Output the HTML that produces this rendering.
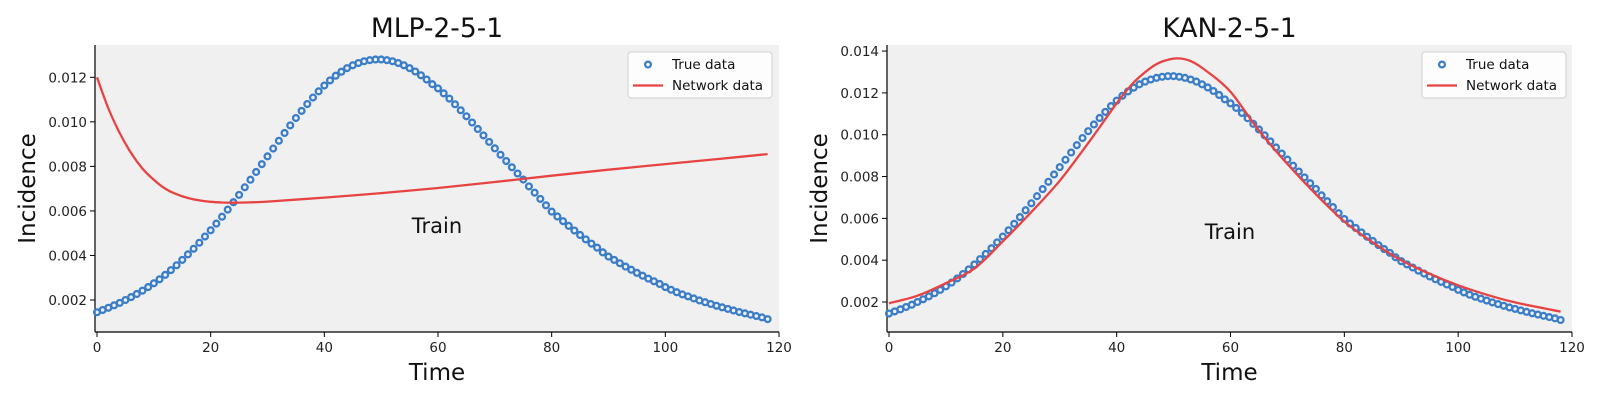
<!DOCTYPE html>
<html><head><meta charset="utf-8"><style>
html,body{margin:0;padding:0;background:#fff;}
svg{display:block;font-family:"DejaVu Sans","Liberation Sans",sans-serif;}
</style></head><body>
<svg id="chart" width="1600" height="400" viewBox="0 0 1600 400"></svg>
<script>
// ---- data ----
const trueT = Array.from({length:119},(_, i)=>i);
const trueVals = [1.45,1.55,1.65,1.76,1.87,2.0,2.13,2.27,2.42,2.58,2.75,2.93,3.13,3.34,3.56,3.80,4.05,4.30,4.57,4.85,5.13,
5.43,5.74,6.06,6.39,6.72,7.06,7.40,7.75,8.10,8.45,
8.80,9.15,9.50,9.84,10.17,10.49,10.80,11.09,11.37,11.63,
11.86,12.07,12.25,12.41,12.54,12.64,12.72,12.77,12.80,12.80,
12.77,12.72,12.64,12.54,12.41,12.26,12.09,11.90,11.69,11.50,
11.28,11.04,10.79,10.52,10.25,9.97,9.68,9.39,9.10,8.81,
8.52,8.24,7.96,7.68,7.41,7.10,6.82,6.54,6.25,5.97,
5.75,5.54,5.33,5.12,4.92,4.72,4.53,4.35,4.14,3.95,
3.80,3.65,3.50,3.36,3.22,3.09,2.96,2.84,2.72,2.58,
2.46,2.35,2.25,2.16,2.07,1.98,1.90,1.82,1.74,1.67,
1.60,1.53,1.46,1.40,1.34,1.28,1.22,1.14];
const mlpT = [0,2,4,6,8,10,12,14,16,18,20,22,24,26,30,40,50,60,70,80,90,100,110,118];
const mlpVals = [12.0,10.6,9.5,8.6,7.9,7.4,7.0,6.75,6.58,6.47,6.41,6.38,6.37,6.38,6.42,6.6,6.8,7.03,7.3,7.58,7.85,8.1,8.35,8.55];
const kanT = [0,5,10,15,20,25,30,35,40,43,46,48,50.5,53,56,60,65,70,75,80,85,90,95,100,105,110,118];
const kanVals = [1.94,2.3,2.9,3.6,4.9,6.3,7.8,9.6,11.5,12.5,13.2,13.5,13.65,13.52,13.0,12.05,10.2,8.6,7.15,5.85,4.85,4.0,3.35,2.8,2.35,1.98,1.54];
const xTicks = [0,20,40,60,80,100,120];
const yTicksL = [0.002,0.004,0.006,0.008,0.010,0.012];
const yTicksR = [0.002,0.004,0.006,0.008,0.010,0.012,0.014];

const NS='http://www.w3.org/2000/svg';
const svg=document.getElementById('chart');
function mk(tag,attrs,parent){const e=document.createElementNS(NS,tag);for(const k in attrs)e.setAttribute(k,attrs[k]);(parent||svg).appendChild(e);return e;}
function smoothPath(P){
  let d='M'+P[0][0].toFixed(1)+','+P[0][1].toFixed(1);
  for(let i=0;i<P.length-1;i++){
    const p0=P[Math.max(i-1,0)],p1=P[i],p2=P[i+1],p3=P[Math.min(i+2,P.length-1)];
    const c1=[p1[0]+(p2[0]-p0[0])/6,p1[1]+(p2[1]-p0[1])/6];
    const c2=[p2[0]-(p3[0]-p1[0])/6,p2[1]-(p3[1]-p1[1])/6];
    d+=' C'+c1[0].toFixed(1)+','+c1[1].toFixed(1)+' '+c2[0].toFixed(1)+','+c2[1].toFixed(1)+' '+p2[0].toFixed(1)+','+p2[1].toFixed(1);
  }
  return d;
}

function panel(p){
  const g=mk('g',{});
  
  
  const xs=t=>p.xt0+t/120*(p.x1-p.xt0);
  const ys=v=>p.y1-(v-p.vmin)/(p.vmax-p.vmin)*(p.y1-p.y0);
  const bg=mk('rect',{x:p.x0,y:p.y0,width:p.x1-p.x0,height:p.y1-p.y0,fill:'#f0f0f0'},g);
  
  
  xTicks.forEach(t=>{
    const X=xs(t);
    mk('line',{x1:X,x2:X,y1:p.y1,y2:p.y1+5,stroke:'#000','stroke-width':1},g);
    const tx=mk('text',{x:X,y:p.y1+20,'text-anchor':'middle','font-size':13.5,fill:'#222'},g);
    tx.textContent=t;
    
    
  });
  p.yt.forEach(v=>{
    const Y=ys(v);
    mk('line',{x1:p.x0-5,x2:p.x0,y1:Y,y2:Y,stroke:'#000','stroke-width':1},g);
    const tx=mk('text',{x:p.x0-8,y:Y+5,'text-anchor':'end','font-size':13.5,fill:'#222'},g);
    tx.textContent=v.toFixed(3);
    
    
  });
  mk('line',{x1:p.x0,x2:p.x0,y1:p.y0,y2:p.y1,stroke:'#000','stroke-width':1.2},g);
  mk('line',{x1:p.x0,x2:p.x1,y1:p.y1,y2:p.y1,stroke:'#000','stroke-width':1.2},g);
  trueT.forEach((t,i)=>{
    const c=mk('circle',{cx:xs(t),cy:ys(trueVals[i]/1000),r:2.9,fill:'none',stroke:'#3a7dc9','stroke-width':2.3},g);
    
    
  });
  const P=p.nt.map((t,i)=>[xs(t),ys(p.nv[i]/1000)]);
  const line=mk('path',{d:smoothPath(P),fill:'none',stroke:'#e84343','stroke-width':2.3,'stroke-linejoin':'round'},g);
  
  
  const tr=mk('text',{x:p.trainX,y:p.trainY,'text-anchor':'middle','font-size':21,fill:'#111'},g);
  tr.textContent='Train';
  
  
  const ti=mk('text',{x:(p.x0+p.x1)/2,y:37,'text-anchor':'middle','font-size':26.5,fill:'#111'},g);
  ti.textContent=p.title;
  
  
  const xl=mk('text',{x:(p.x0+p.x1)/2,y:380,'text-anchor':'middle','font-size':23,fill:'#111'},g);
  xl.textContent='Time';
  
  
  const yl=mk('text',{x:0,y:0,'text-anchor':'middle','font-size':23,fill:'#111',transform:`translate(${p.ylx},${(p.y0+p.y1)/2}) rotate(-90)`},g);
  yl.textContent='Incidence';
  
  
  const lg=mk('g',{},g);
  
  
  mk('rect',{x:p.lx,y:52,width:144,height:46,rx:3,fill:'#fff','fill-opacity':0.85,stroke:'#d0d0d0','stroke-width':1},lg);
  mk('circle',{cx:p.lx+20,cy:64.5,r:2.9,fill:'none',stroke:'#3a7dc9','stroke-width':2.3},lg);
  const l1=mk('text',{x:p.lx+44,y:69,'font-size':13.5,fill:'#111'},lg);
  l1.textContent='True data';
  
  
  mk('line',{x1:p.lx+5,x2:p.lx+35,y1:85.5,y2:85.5,stroke:'#e84343','stroke-width':2.3},lg);
  const l2=mk('text',{x:p.lx+44,y:90,'font-size':13.5,fill:'#111'},lg);
  l2.textContent='Network data';
  
  
}
panel({id:'mlp',title:'MLP-2-5-1',x0:95,xt0:97,x1:779,y0:45,y1:332,vmin:0.000563,vmax:0.01345,yt:yTicksL,nt:mlpT,nv:mlpVals,trainX:437,trainY:233,ylx:35,lx:628});
panel({id:'kan',title:'KAN-2-5-1',x0:887,xt0:889,x1:1572,y0:45,y1:332,vmin:0.000566,vmax:0.01429,yt:yTicksR,nt:kanT,nv:kanVals,trainX:1230,trainY:239,ylx:827,lx:1422});
</script>
</body></html>
